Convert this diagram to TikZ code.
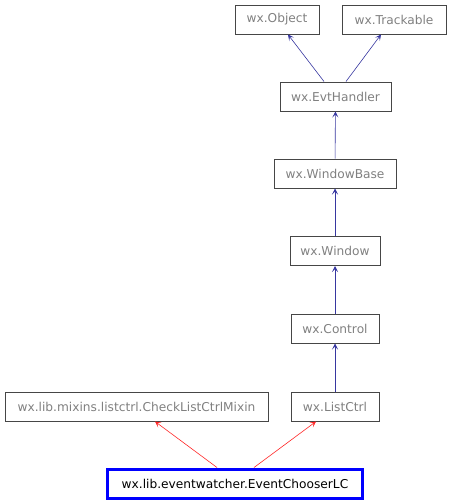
\documentclass[tikz,border=0pt]{standalone}
\usepackage{fontspec}
\setmainfont{DejaVu Sans}
\usetikzlibrary{arrows.meta}
\definecolor{edgeblue}{RGB}{55,55,160}
\definecolor{boxgray}{RGB}{70,70,70}
\definecolor{textgray}{RGB}{128,128,128}
\begin{document}
\begin{tikzpicture}[
    x=1pt, y=-1pt,
    cls/.style={rectangle, draw=boxgray, line width=1pt, minimum height=29pt, inner sep=0pt, text=textgray, font=\fontsize{12.2}{14}\selectfont},
    focus/.style={cls, draw=blue, line width=3pt, text=black},
    inherit/.style={-{Stealth[length=6pt,width=6pt,inset=3pt]}, edgeblue, line width=0.6pt},
    mixin/.style={-{Stealth[length=6pt,width=6pt,inset=3pt]}, red!85!white, line width=0.6pt}
]
\useasboundingbox (0,0) rectangle (451,504);

% Classes (top to bottom)
\node[cls, minimum width=84pt] (object) at (277, 19.5) {wx.Object};
\node[cls, minimum width=104pt] (trackable) at (394, 19.5) {wx.Trackable};
\node[cls, minimum width=111pt] (evthandler) at (335.5, 96.5) {wx.EvtHandler};
\node[cls, minimum width=122pt] (windowbase) at (335, 173.5) {wx.WindowBase};
\node[cls, minimum width=90pt] (window) at (335, 251) {wx.Window};
\node[cls, minimum width=88pt] (control) at (335, 328.5) {wx.Control};
\node[cls, minimum width=263pt] (checkmixin) at (136.5, 406.5) {wx.lib.mixins.listctrl.CheckListCtrlMixin};
\node[cls, minimum width=88pt] (listctrl) at (335, 406.5) {wx.ListCtrl};
\node[focus, minimum width=255pt] (chooser) at (235, 483.5) {wx.lib.eventwatcher.EventChooserLC};

% Inheritance arrows
\draw[inherit] ([xshift=-11.5pt]evthandler.north) -- ([xshift=11pt]object.south);
\draw[inherit] ([xshift=10.5pt]evthandler.north) -- ([xshift=-13pt]trackable.south);
\draw[inherit] (windowbase) -- (evthandler);
\draw[inherit] (window) -- (windowbase);
\draw[inherit] (control) -- (window);
\draw[inherit] (listctrl) -- (control);
\draw[mixin] ([xshift=-18pt]chooser.north) -- ([xshift=18.5pt]checkmixin.south);
\draw[mixin] ([xshift=19pt]chooser.north) -- ([xshift=-19pt]listctrl.south);

\end{tikzpicture}
\end{document}
